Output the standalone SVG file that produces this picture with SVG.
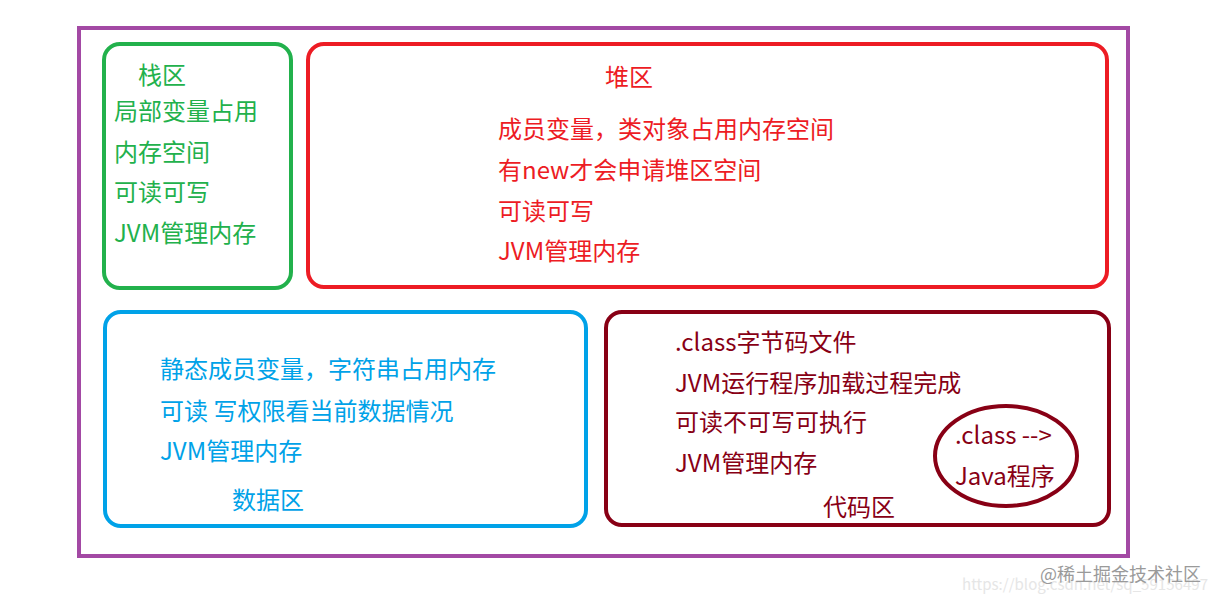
<svg xmlns="http://www.w3.org/2000/svg" width="1218" height="603" viewBox="0 0 1218 603">
<style>
text{font-family:"Noto Sans CJK SC","Noto Sans",sans-serif;font-size:24px}
.box{fill:none;stroke-width:4}
.g{fill:#22B14C}.r{fill:#ED1C24}.b{fill:#00A2E8}.d{fill:#880015}
</style>
<rect width="1218" height="603" fill="#ffffff"/>
<g id="memory">
<rect x="79" y="28" width="1049" height="528" class="box" stroke="#A349A4"/>
</g>
<g id="stack">
<rect x="104" y="44" width="187" height="244" rx="16" class="box" stroke="#22B14C"/>
<text class="g" x="138" y="84">栈区</text>
<text class="g" x="114" y="120">局部变量占用</text>
<text class="g" x="114" y="161">内存空间</text>
<text class="g" x="114" y="201">可读可写</text>
<text class="g" x="114" y="242">JVM管理内存</text>
</g>
<g id="heap">
<rect x="308" y="44" width="799" height="243" rx="16" class="box" stroke="#ED1C24"/>
<text class="r" x="605" y="86">堆区</text>
<text class="r" x="498" y="138">成员变量，类对象占用内存空间</text>
<text class="r" x="498" y="179">有new才会申请堆区空间</text>
<text class="r" x="498" y="220">可读可写</text>
<text class="r" x="498" y="260">JVM管理内存</text>
</g>
<g id="data">
<rect x="105" y="312" width="481" height="214" rx="16" class="box" stroke="#00A2E8"/>
<text class="b" x="160" y="378">静态成员变量，字符串占用内存</text>
<text class="b" x="160" y="420">可读 写权限看当前数据情况</text>
<text class="b" x="160" y="460">JVM管理内存</text>
<text class="b" x="232" y="509">数据区</text>
</g>
<g id="code">
<rect x="606" y="312" width="503" height="213" rx="16" class="box" stroke="#880015"/>
<text class="d" x="675" y="351">.class字节码文件</text>
<text class="d" x="675" y="392">JVM运行程序加载过程完成</text>
<text class="d" x="675" y="431">可读不可写可执行</text>
<text class="d" x="675" y="472">JVM管理内存</text>
<text class="d" x="823" y="516">代码区</text>
</g>
<g id="class-to-java">
<ellipse cx="1006" cy="456" rx="71" ry="50" class="box" stroke="#880015"/>
<text class="d" x="955" y="444">.class --&gt;</text>
<text class="d" x="955" y="485">Java程序</text>
</g>
<g id="connectors"></g>
<g id="watermark">
<text x="962" y="590" textLength="246" lengthAdjust="spacingAndGlyphs" style="font-size:15px;fill:#e6e6e6">https://blog.csdn.net/sq_59156497</text>
<text x="1040" y="581" style="font-size:18px;fill:#9a9a9a">@稀土掘金技术社区</text>
</g>
</svg>
